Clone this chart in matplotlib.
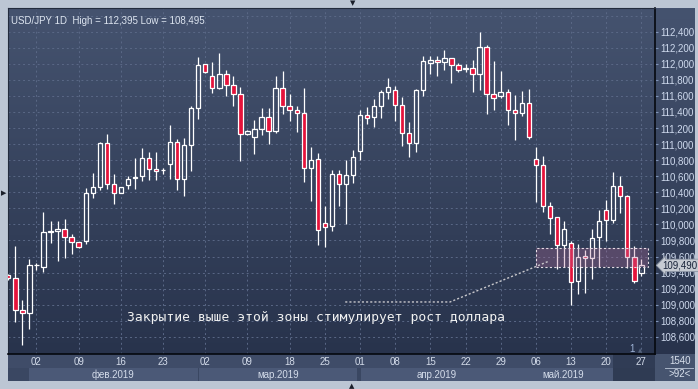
import numpy as np
import matplotlib.pyplot as plt
from matplotlib.patches import Rectangle
from matplotlib.colors import to_rgb
from matplotlib.transforms import blended_transform_factory

plt.rcParams['font.family'] = ['Liberation Sans', 'DejaVu Sans']

W, H = 698, 389

# daily candles USD/JPY (open, high, low, close)
opens = [109.367, 109.329, 108.929, 108.892, 109.490, 109.475, 109.900, 109.917, 109.946, 109.846,
         109.779, 109.788, 110.392, 110.467, 111.008, 110.504, 110.388, 110.487, 110.580, 110.600,
         110.829, 110.692, 110.675, 110.754, 111.029, 110.563, 110.992, 111.454, 111.992, 111.842,
         111.704, 111.867, 111.742, 111.629, 111.129, 111.092, 111.192, 111.342, 111.158, 111.704,
         111.479, 111.429, 111.392, 110.704, 110.817, 110.017, 109.979, 110.629, 110.504, 110.617,
         110.913, 111.358, 111.342, 111.479, 111.654, 111.679, 111.492, 111.142, 111.017, 111.679,
         112.004, 112.042, 112.017, 112.067, 111.979, 111.935, 111.942, 111.867, 112.204, 111.629,
         111.604, 111.654, 111.429, 111.392, 111.517, 110.817, 110.742, 110.225, 110.088, 109.742,
         109.767, 109.292, 109.604, 109.579, 109.842, 110.179, 110.054, 110.479, 110.354, 109.592,
         109.392]
highs = [109.380, 109.733, 109.058, 109.575, 109.521, 110.158, 110.046, 110.046, 110.071, 109.879,
         109.785, 110.454, 110.646, 111.025, 111.121, 110.633, 110.470, 110.608, 110.821, 110.946,
         110.896, 110.896, 110.700, 111.233, 111.067, 111.071, 111.475, 112.083, 111.995, 112.017,
         112.133, 111.917, 111.842, 111.708, 111.179, 111.296, 111.454, 111.454, 111.842, 111.908,
         111.629, 111.471, 111.696, 110.958, 110.888, 110.229, 110.683, 110.683, 110.804, 110.929,
         111.429, 111.458, 111.567, 111.679, 111.821, 111.729, 111.583, 111.279, 111.692, 112.092,
         112.092, 112.092, 112.171, 112.070, 112.004, 111.992, 112.042, 112.395, 112.238, 112.029,
         111.908, 111.692, 111.617, 111.667, 111.692, 110.958, 110.846, 110.283, 110.090, 110.042,
         109.792, 109.754, 109.679, 109.946, 110.183, 110.308, 110.654, 110.604, 110.360, 109.729,
         109.567]
lows = [109.310, 108.788, 108.495, 108.700, 109.438, 109.408, 109.763, 109.538, 109.583, 109.633,
        109.712, 109.758, 110.333, 110.425, 110.446, 110.250, 110.385, 110.446, 110.438, 110.538,
        110.558, 110.550, 110.633, 110.563, 110.425, 110.350, 110.663, 111.308, 111.889, 111.638,
        111.692, 111.600, 111.475, 110.788, 111.117, 110.875, 111.117, 111.000, 111.142, 111.371,
        111.283, 111.150, 110.525, 110.288, 109.738, 109.713, 109.913, 110.229, 110.000, 110.517,
        110.800, 111.246, 111.213, 111.321, 111.563, 111.288, 110.979, 110.838, 110.900, 111.600,
        111.879, 111.850, 111.929, 111.763, 111.904, 111.892, 111.650, 111.679, 111.379, 111.429,
        111.579, 111.242, 111.050, 111.354, 111.067, 110.275, 110.150, 109.883, 109.450, 109.475,
        109.000, 109.129, 109.142, 109.317, 109.475, 109.792, 110.017, 110.142, 109.454, 109.267,
        109.354]
closes = [109.329, 108.929, 108.892, 109.496, 109.494, 109.908, 109.917, 109.946, 109.838, 109.775,
          109.717, 110.392, 110.467, 111.008, 110.504, 110.388, 110.467, 110.567, 110.586, 110.829,
          110.688, 110.663, 110.679, 111.029, 110.563, 110.992, 111.454, 111.979, 111.892, 111.704,
          111.867, 111.742, 111.629, 111.129, 111.167, 111.192, 111.342, 111.167, 111.704, 111.479,
          111.429, 111.392, 110.704, 110.804, 109.929, 109.967, 110.629, 110.504, 110.617, 110.842,
          111.358, 111.329, 111.479, 111.654, 111.717, 111.492, 111.142, 111.017, 111.679, 112.029,
          112.042, 112.017, 112.067, 111.979, 111.929, 111.945, 111.867, 112.204, 111.629, 111.579,
          111.654, 111.429, 111.392, 111.517, 111.092, 110.738, 110.225, 110.075, 109.742, 109.942,
          109.279, 109.592, 109.579, 109.829, 110.042, 110.054, 110.479, 110.354, 109.592, 109.292,
          109.490]

# x axis: candle index of each weekly label
date_idx = [4, 10, 16, 22, 28, 34, 40, 45, 50, 55, 60, 65, 70, 75, 80, 85, 90]
date_labels = ['02', '09', '16', '23', '02', '09', '18', '25', '01', '08', '15', '22', '29',
               '06', '13', '20', '27']
month_labels = ['фев.2019', 'мар.2019', 'апр.2019', 'май.2019']
month_spans = [(2.95, 26.95), (27.05, 49.6), (50.1, 71.7), (71.8, 86.0)]

price_ticks = [108.6, 108.8, 109.0, 109.2, 109.4, 109.6, 109.8, 110.0, 110.2, 110.4, 110.6,
               110.8, 111.0, 111.2, 111.4, 111.6, 111.8, 112.0, 112.2, 112.4]

zone_lo, zone_hi = 109.473, 109.703
zone_x0, zone_x1 = 75.0, 91.0

XMIN, XMAX = -0.045, 91.94
YMIN, YMAX = 108.386, 112.695


def box(x0, y0, x1, y1):
    return [x0 / W, 1 - y1 / H, (x1 - x0) / W, (y1 - y0) / H]


def fmt(v):
    return f"{v:.3f}".replace('.', ',')


fig = plt.figure(figsize=(W / 100, H / 100), dpi=100, facecolor='#bcc6d4')

# gradient background behind chart and price scale
bg = fig.add_axes(box(8, 8, 695, 354))
top = np.array(to_rgb('#45536f'))
bot = np.array(to_rgb('#28334c'))
t = np.linspace(0, 1, 256)[:, None]
grad = top * (1 - t) + bot * t
bg.imshow(grad[:, None, :], aspect='auto', extent=(0, 1, 0, 1))
bg.axis('off')

# date strip
strip = fig.add_axes(box(8, 354, 655, 381))
strip.set_xlim(XMIN, XMAX)
strip.set_ylim(0, 27)
strip.add_patch(Rectangle((XMIN, 13), XMAX - XMIN, 14, color='#3f4c68', lw=0))
strip.add_patch(Rectangle((XMIN, 0), XMAX - XMIN, 13, color='#3a4762', lw=0))
for (a, b), lab in zip(month_spans, month_labels):
    strip.add_patch(Rectangle((a, 0), b - a, 13, color='#4b5977', lw=0))
    strip.text((a + b) / 2, 6.3, lab, ha='center', va='center', fontsize=7, color='#d4dcea')
strip.add_patch(Rectangle((86.0, 0), XMAX - 86.0, 27, color='#2c374f', alpha=0.75, lw=0))
strip.axis('off')

# bottom-right counter box
cnt = fig.add_axes(box(655, 354, 695, 381))
cnt.set_xlim(0, 40)
cnt.set_ylim(27, 0)
cnt.add_patch(Rectangle((0, 0), 40, 27, color='#46546f', lw=0))
cnt.text(25, 7, '1540', ha='center', va='center', fontsize=7, color='#d8e0ec')
cnt.plot([10, 38], [13.5, 13.5], color='#aab6c8', lw=0.7)
cnt.text(25, 20, '>92<', ha='center', va='center', fontsize=7, color='#d8e0ec')
cnt.axis('off')

# main chart
ax = fig.add_axes(box(8, 8, 655, 354))
ax.set_facecolor('none')
ax.set_xlim(XMIN, XMAX)
ax.set_ylim(YMIN, YMAX)

o = np.array(opens)
h = np.array(highs)
l = np.array(lows)
c = np.array(closes)
x = np.arange(len(o))
body_lo = np.minimum(o, c)
body_hi = np.maximum(o, c)
ax.vlines(x, body_hi, h, color='white', lw=0.9, zorder=3)
ax.vlines(x, l, body_lo, color='white', lw=0.9, zorder=3)
bw = 0.62
for i in x:
    fc = 'none' if c[i] >= o[i] else '#e5133b'
    ax.add_patch(Rectangle((i - bw / 2, body_lo[i]), bw, max(body_hi[i] - body_lo[i], 0.004),
                           facecolor=fc, edgecolor='white', lw=0.9, zorder=4))

# support zone
ax.add_patch(Rectangle((zone_x0, zone_lo), zone_x1 - zone_x0, zone_hi - zone_lo,
                       facecolor='#b46a98', alpha=0.3, lw=0, zorder=5))
ax.add_patch(Rectangle((zone_x0, zone_lo), zone_x1 - zone_x0, zone_hi - zone_lo,
                       fill=False, edgecolor='#e6dde6', lw=0.8, ls=(0, (2, 2)), zorder=6))

# annotation
ax.plot([47.9, 62.8, 76.9], [109.034, 109.034, 109.544], color='#c8c8cc', lw=1.0,
        ls=(0, (1.5, 1.5)), zorder=6)
ax.text(43.8, 108.835, 'Закрытие выше этой зоны стимулирует рост доллара', ha='center',
        va='center', fontsize=9.35, color='#f2f2f2', family='DejaVu Sans Mono', zorder=7)

# grid and ticks
ax.set_yticks(price_ticks, [fmt(v) for v in price_ticks])
ax.set_xticks(date_idx, date_labels)
ax.set_axisbelow(True)
ax.grid(True, color='#5a6886', lw=0.7, ls=(0, (2, 3)))
ax.axhline(112.6, color='#5a6886', lw=0.7, ls=(0, (2, 3)), zorder=0)
ax.yaxis.tick_right()
ax.tick_params(axis='y', length=2.5, width=0.8, color='#7f93b8', labelcolor='#cfdaee',
               labelsize=7, pad=1.5)
ax.tick_params(axis='x', length=0, pad=2.5, labelsize=7, labelcolor='#d4dcea')
for s in ['left', 'top']:
    ax.spines[s].set_color('#222b3d')
    ax.spines[s].set_linewidth(0.8)
for s in ['right', 'bottom']:
    ax.spines[s].set_color('#05080e')
    ax.spines[s].set_linewidth(1.2)

# last price marker
tr = blended_transform_factory(ax.transAxes, ax.transData)
ax.text(1.012, c[-1], fmt(c[-1]), transform=tr, ha='left', va='center', fontsize=7,
        color='#18233a', clip_on=False, zorder=10,
        bbox=dict(boxstyle='larrow,pad=0.12', fc='#c6cbd3', ec='#8e97a6', lw=0.6))

# header
ax.text(0.004, 0.977, f"USD/JPY 1D  High = {fmt(h.max())} Low = {fmt(l.min())}",
        transform=ax.transAxes, ha='left', va='top', fontsize=7, color='#dde5f0')

# window controls
ui = fig.add_axes(box(0, 0, W, H))
ui.set_xlim(0, W)
ui.set_ylim(H, 0)
ui.axis('off')
ui.text(353, 3, '▼', ha='center', va='center', fontsize=5, color='#1a1f2a', family='DejaVu Sans')
ui.text(352, 386.5, '▲', ha='center', va='center', fontsize=5, color='#1a1f2a',
        family='DejaVu Sans')
ui.text(3.5, 193, '▶', ha='center', va='center', fontsize=5, color='#1a1f2a', family='DejaVu Sans')
ui.text(632, 349, '1', ha='center', va='center', fontsize=7, color='#9fb3d6')
ui.text(640, 351, '▲', ha='center', va='center', fontsize=4, color='#55647e', family='DejaVu Sans')

fig.savefig('out.png', dpi=100, facecolor=fig.get_facecolor())
